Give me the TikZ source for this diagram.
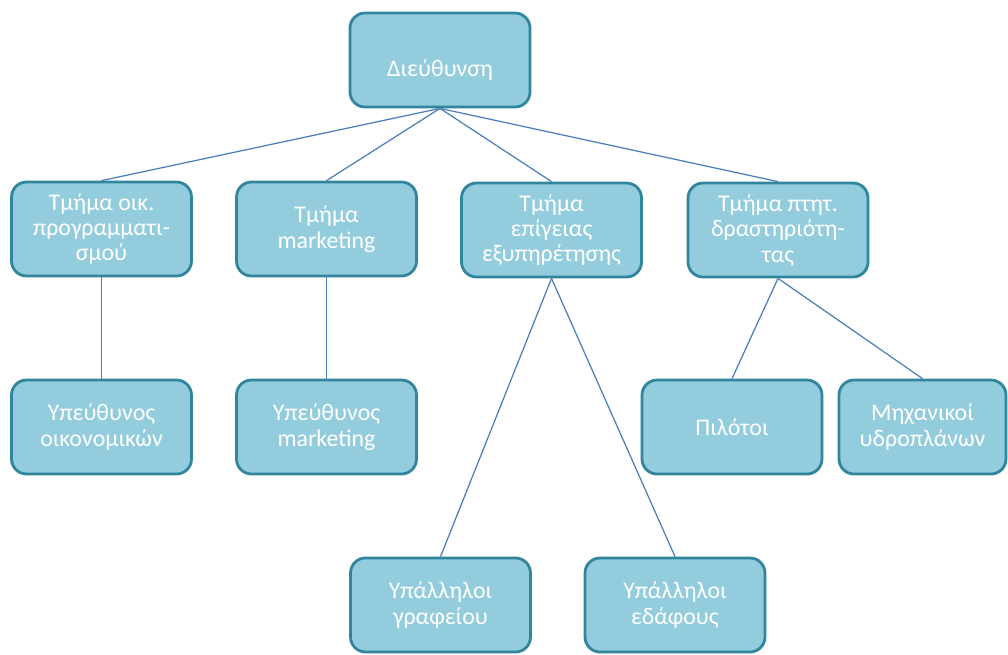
\documentclass[tikz,border=0pt]{standalone}
\usepackage{fontspec}
\setmainfont{Carlito}
\usepackage{tikz}
\usetikzlibrary{positioning}

\definecolor{boxfill}{HTML}{93CDDD}
\definecolor{boxline}{HTML}{31859C}
\definecolor{linkline}{HTML}{4A7EBB}

\begin{document}
\begin{tikzpicture}[x=0.02cm, y=-0.02cm,
    unit/.style={draw=boxline, line width=1.6pt, fill=boxfill, rounded corners=0.3cm,
        minimum width=3.6cm, minimum height=1.88cm, align=center, text=white,
        inner sep=2pt, font=\fontsize{13.6}{14.5}\selectfont},
    link/.style={draw=linkline, line width=0.7pt}
]
\useasboundingbox (0,0) rectangle (1008,654);

% Top level
\node[unit, text height=0.66cm, text depth=0pt] (dir) at (440,60) {Διεύθυνση};

% Departments
\node[unit] (finplan) at (101.5,229) {Τμήμα οικ.\\προγραμματι-\\σμού};
\node[unit] (mkt) at (326.5,229) {Τμήμα\\marketing};
\node[unit] (ground) at (551.5,230) {Τμήμα\\επίγειας\\εξυπηρέτησης};
\node[unit] (flight) at (778,230) {Τμήμα πτητ.\\δραστηριότη-\\τας};

% Staff
\node[unit] (finhead) at (101.5,427) {Υπεύθυνος\\οικονομικών};
\node[unit] (mkthead) at (326.5,427) {Υπεύθυνος\\marketing};
\node[unit] (pilots) at (732,427) {Πιλότοι};
\node[unit, minimum width=3.34cm] (engineers) at (922.5,427) {Μηχανικοί\\υδροπλάνων};
\node[unit] (office) at (440.5,605) {Υπάλληλοι\\γραφείου};
\node[unit] (groundstaff) at (675,605) {Υπάλληλοι\\εδάφους};

% Links
\foreach \dept in {finplan, mkt, ground, flight}
    \draw[link] (dir.south) -- (\dept.north);
\draw[link] (finplan.south) -- (finhead.north);
\draw[link] (mkt.south) -- (mkthead.north);
\draw[link] (ground.south) -- (office.north);
\draw[link] (ground.south) -- (groundstaff.north);
\draw[link] (flight.south) -- (pilots.north);
\draw[link] (flight.south) -- (engineers.north);

\end{tikzpicture}
\end{document}
